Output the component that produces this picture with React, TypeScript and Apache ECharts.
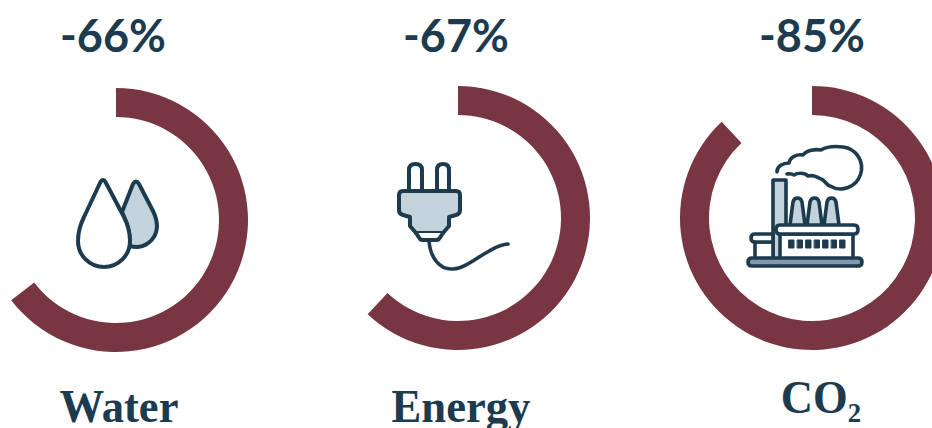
import React, { useEffect, useRef } from "react";
import * as echarts from "echarts";

const categories = ["Water", "Energy", "CO₂"];
const reductionLabels = ["-66%", "-67%", "-85%"];
const drawnArcShare = [64.6, 62, 88];

const DARK = "#1c3b4e";
const PALE = "#c3d3dc";
const RING = "#783643";

const iconPaths: Record<string, string> = {
  drop2: "M122 212 L133 184 Q136 179 139 184 L153 211 C156 217 157 222 157 227 A21 21 0 0 1 130 246 C130 233 128 225 124 217 Z",
  drop1: "M100 183 Q103 177 106 183 L124 217 C128 225 130 233 130 241 A26 26 0 0 1 78 241 C78 233 80 225 84 217 Z",
  prong1: "M409 191 V170 Q409 164 415.5 164 Q422 164 422 170 V191",
  prong2: "M437 191 V170 Q437 164 443 164 Q449 164 449 170 V191",
  plug: "M403 191 H456 Q460 191 460 195 V210 Q460 214 456 215 L449 217 V226 L443 233 H416 L410 226 V217 L403 215 Q399 214 399 210 V195 Q399 191 403 191 Z",
  neck: "M416 233 L420 239 Q421 240 423 240 H436 Q438 240 439 239 L443 233",
  cord: "M429 240 C430 258 440 270 453 269 C470 268 488 246 508 244",
  smoke: "M777 172 C777 166 783 163 789 163 C790 157 797 154 803 155 C807 150 815 149 821 150 C826 147 835 146 843 147 A21 21 0 1 1 830 186 C826 185 825 180 821 179 C815 176 813 175 808 176 C804 172 797 173 794 175 C791 173 789 174 787 174",
  stack1: "M790 225 L793 202 Q794 198 797.5 198 Q801 198 802 202 L805 225",
  stack2: "M807 225 L810 202 Q811 198 814.5 198 Q818 198 819 202 L822 225",
  stack3: "M824 225 L827 202 Q828 198 831.5 198 Q835 198 836 202 L839 225",
  chimney: "M773 180 H786 V259 H773 Z",
  roof: "M780 225 H854 Q858 225 858 229.5 Q858 234 854 234 H780 Q776 234 776 229.5 Q776 225 780 225 Z",
  hall: "M780 234 H853 V259 H780 Z",
  sideRoof: "M755 234 H773 V242 H755 Q751 242 751 238 Q751 234 755 234 Z",
  sideWall: "M755 242 H773 V259 H755 Z",
  base: "M752 258 H858 Q862 258 862 262 Q862 266 858 266 H752 Q748 266 748 262 Q748 258 752 258 Z",
  windows: "M789 240 h5 v8 h-5 Z M797.5 240 h5 v8 h-5 Z M806 240 h5 v8 h-5 Z M814.5 240 h5 v8 h-5 Z M823 240 h5 v8 h-5 Z M831.5 240 h5 v8 h-5 Z M840 240 h5 v8 h-5 Z",
};

Object.keys(iconPaths).forEach((k) => {
  echarts.graphic.registerShape("icon_" + k, echarts.graphic.extendPath(iconPaths[k], {}));
});

const icon = (k: string, fill: string, lineWidth = 3.6) => ({
  type: "icon_" + k,
  x: 0,
  y: 0,
  z: 10,
  style: { fill, stroke: DARK, lineWidth, lineCap: "round", lineJoin: "round" },
});

export default function App() {
  const ref = useRef<HTMLDivElement>(null);
  useEffect(() => {
    const chart = echarts.init(ref.current!, undefined, { renderer: "svg" });
    const centers = [[116, 220], [458, 218], [812, 218]];
    const percentX = [113, 456, 812];
    const nameX = [119, 461, 821];
    const nameY = [406, 406, 397];
    const clear = "rgba(0,0,0,0)";
    chart.setOption({
      animation: false,
      backgroundColor: "#ffffff",
      series: categories.map((name, i) => ({
        type: "pie",
        name,
        silent: true,
        center: centers[i],
        radius: [103, 132],
        startAngle: 90,
        clockwise: true,
        label: { show: false },
        labelLine: { show: false },
        data: [
          { value: drawnArcShare[i], itemStyle: { color: RING } },
          { value: 100 - drawnArcShare[i], itemStyle: { color: clear } },
        ],
      })),
      graphic: [
        ...reductionLabels.map((text, i) => ({
          type: "text", x: percentX[i], y: 35,
          style: { text, fill: DARK, font: "bold 45px Lato", align: "center", verticalAlign: "middle" },
        })),
        ...categories.map((text, i) => ({
          type: "text", x: nameX[i], y: nameY[i], scaleX: 0.95,
          style: { text, fill: DARK, font: "bold 47px 'Liberation Serif'", align: "center", verticalAlign: "middle" },
        })),
        icon("drop2", PALE, 4), icon("drop1", "#ffffff", 4),
        icon("prong1", "#ffffff", 4), icon("prong2", "#ffffff", 4), icon("plug", PALE, 4), icon("neck", "#ffffff", 4), icon("cord", "none", 3.6),
        icon("smoke", "none"), icon("stack1", PALE), icon("stack2", PALE), icon("stack3", PALE),
        icon("chimney", PALE), icon("hall", "#ffffff"), icon("sideWall", "#ffffff"), icon("sideRoof", "#ffffff"),
        icon("roof", "#ffffff"), icon("base", "#7f9aaa"), icon("windows", DARK, 1),
      ],
    });
    return () => chart.dispose();
  }, []);
  return <div ref={ref} style={{ position: "fixed", left: 0, top: 0, width: 932, height: 428 }} />;
}
